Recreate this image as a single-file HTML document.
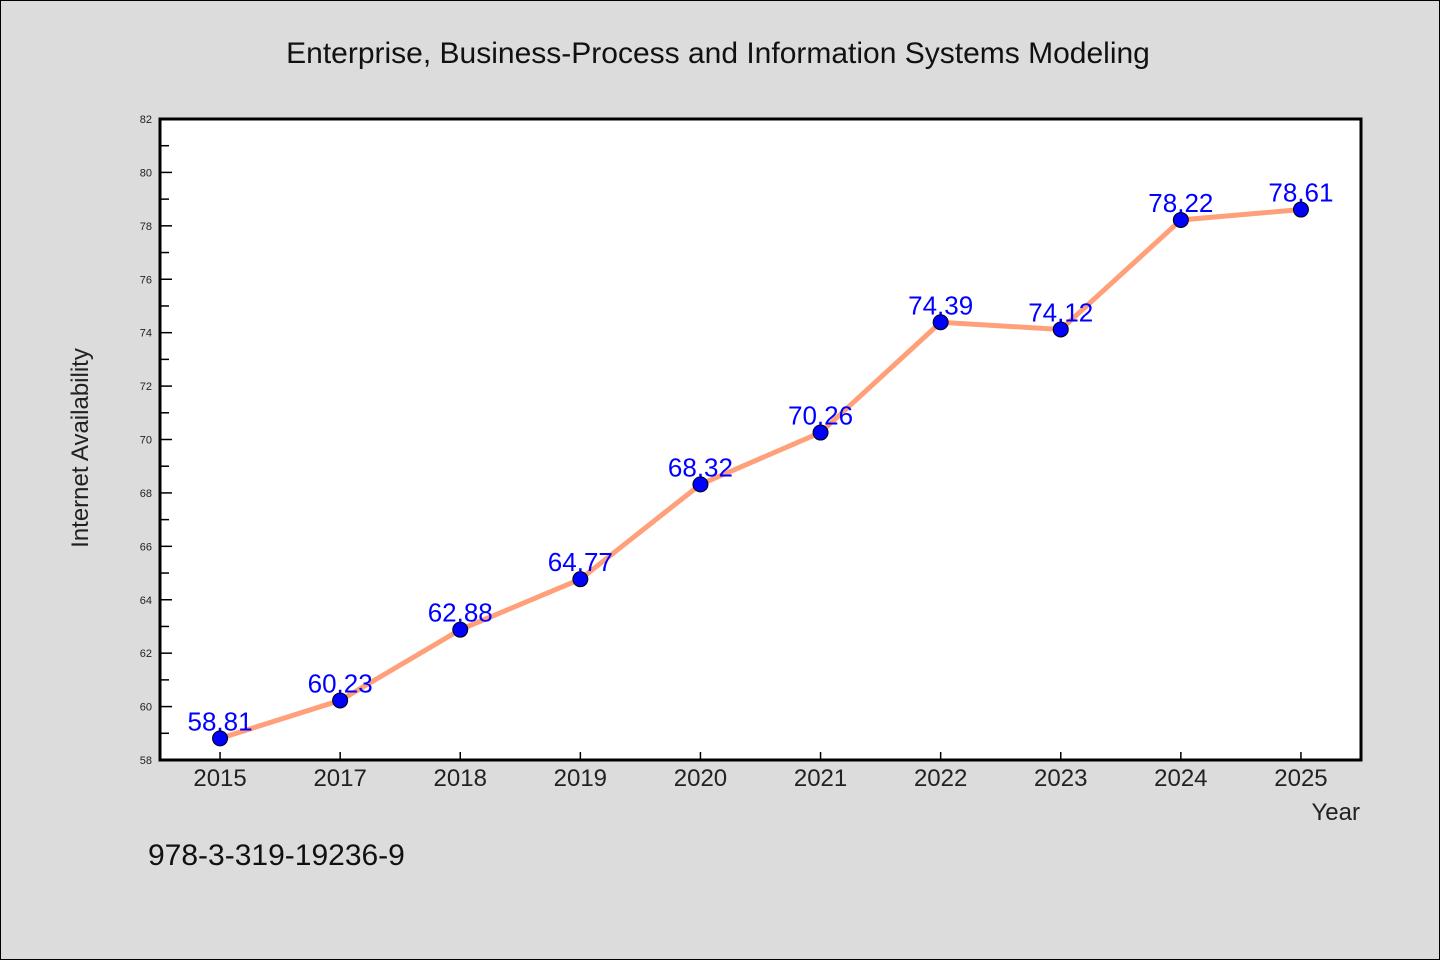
<!DOCTYPE html>
<html><head><meta charset="utf-8"><style>
html,body{margin:0;padding:0;background:#dcdcdc}
svg{display:block}
text{font-family:"WenQuanYi Zen Hei","Liberation Sans",sans-serif}
</style></head><body>
<svg id="chart" width="1440" height="960" xmlns="http://www.w3.org/2000/svg">
<rect x="0.5" y="0.5" width="1439" height="959" fill="#dcdcdc" stroke="#000"/>
<text x="718" y="63" font-size="30" text-anchor="middle" fill="#111">Enterprise, Business-Process and Information Systems Modeling</text>
<rect x="160" y="119" width="1201" height="641" fill="#fff"/>
<g id="ticks"></g>
<g id="series"></g>
<rect x="160" y="119" width="1201" height="641" fill="none" stroke="#000" stroke-width="3"/>
<text x="88" y="448" font-size="24" text-anchor="middle" fill="#222" transform="rotate(-90 88 448)">Internet Availability</text>
<text x="1360" y="820" font-size="24" text-anchor="end" fill="#222">Year</text>
<text x="148" y="865" font-size="30" fill="#111">978-3-319-19236-9</text>
</svg>
<script>
const categories=["2015","2017","2018","2019","2020","2021","2022","2023","2024","2025"];
const values=[58.81,60.23,62.88,64.77,68.32,70.26,74.39,74.12,78.22,78.61];
const yTicks=[58,60,62,64,66,68,70,72,74,76,78,80,82];
const NS="http://www.w3.org/2000/svg";
const L=160,R=1361,T=119,B=760,yMin=58,yMax=82;
const band=(R-L)/categories.length;
const x=i=>L+band*(i+0.5);
const y=v=>B-(v-yMin)/(yMax-yMin)*(B-T);
function mk(tag,attrs,parent){const e=document.createElementNS(NS,tag);for(const k in attrs)e.setAttribute(k,attrs[k]);parent.appendChild(e);return e;}
const tg=document.getElementById('ticks'),sg=document.getElementById('series');
yTicks.forEach((t,i)=>{
  const l=mk('line',{x1:L,x2:L+12,y1:y(t),y2:y(t),stroke:'#000','stroke-width':1.5},tg);
  
  
  const tx=mk('text',{x:152,y:y(t)+4,'font-size':11,'text-anchor':'end',fill:'#222'},tg);
  tx.textContent=t;
  
  
  if(i<yTicks.length-1){
    const m=mk('line',{x1:L,x2:L+9,y1:y(t+1),y2:y(t+1),stroke:'#000','stroke-width':1.5},tg);
    
    
  }
});
categories.forEach((c,i)=>{
  const l=mk('line',{x1:x(i),x2:x(i),y1:B,y2:B-8,stroke:'#000','stroke-width':1.5},tg);
  
  
  const tx=mk('text',{x:x(i),y:B+26,'font-size':24,'text-anchor':'middle',fill:'#222'},tg);
  tx.textContent=c;
  
  
});
const pl=mk('polyline',{points:values.map((v,i)=>x(i)+','+y(v)).join(' '),fill:'none',stroke:'#ffa07a','stroke-width':5},sg);


values.forEach((v,i)=>{
  const c=mk('circle',{cx:x(i),cy:y(v),r:7.5,fill:'#0000ff',stroke:'#000','stroke-width':1},sg);
  
  
  const t=mk('text',{x:x(i),y:y(v)-8,'font-size':26,'text-anchor':'middle',fill:'#0000ff'},sg);
  t.textContent=v.toFixed(2);
  
  
});
</script>
</body></html>
